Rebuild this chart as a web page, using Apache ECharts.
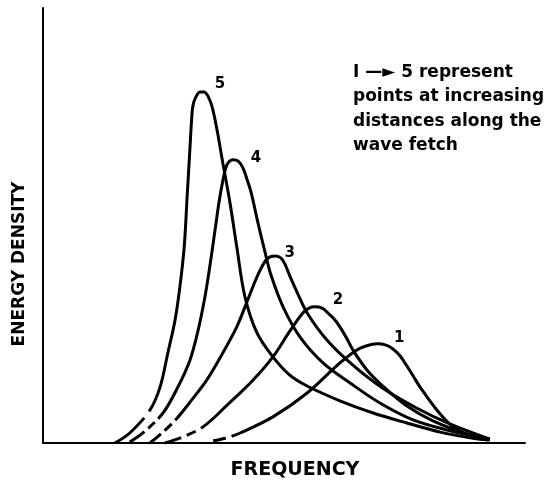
<!DOCTYPE html>
<html><head><meta charset="utf-8">
<script src="https://cdn.jsdelivr.net/npm/echarts@6/dist/echarts.min.js"></script>
<style>html,body{margin:0;padding:0;background:#fff}#c{width:557px;height:486px}</style>
</head><body><div id="c"></div>
<script>
// Frequency (relative units 0-100) vs energy density (relative units 0-100)
const curveNames = ['1', '2', '3', '4', '5'];
const curve1 = [[35.3,0.5],[37.8,1.1],[40.9,2.3],[47.7,6.0],[54.8,11.5],[61.6,18.4],[65.1,21.4],[67.0,22.3],[69.3,22.8],[71.2,22.5],[72.6,21.6],[74.1,20.0],[75.5,17.7],[76.8,15.4],[78.2,12.9],[81.7,7.6],[85.1,3.7],[89.2,1.4],[92.3,0.7]];
const curve2 = [[25.3,0.0],[29.0,1.4],[33.2,3.7],[38.2,8.7],[43.6,14.5],[47.7,19.8],[51.2,25.7],[53.9,29.9],[55.2,31.0],[56.4,31.3],[57.9,31.0],[59.1,29.9],[60.4,28.5],[61.6,26.7],[63.1,23.9],[64.3,21.4],[67.2,16.8],[70.5,13.1],[75.5,8.5],[80.9,5.1],[88.0,2.1],[92.7,0.9]];
const curve3 = [[22.2,0.0],[24.7,2.3],[27.8,5.7],[30.5,9.4],[34.0,14.5],[37.3,20.7],[40.2,26.7],[42.3,32.4],[44.4,38.2],[46.1,41.8],[47.1,42.8],[48.3,43.0],[49.4,42.5],[50.2,41.1],[51.2,38.4],[52.7,34.7],[54.8,29.9],[58.9,23.7],[64.3,17.9],[70.5,12.6],[77.6,8.0],[84.4,4.4],[92.7,0.9]];
const curve4 = [[18.0,0.2],[20.7,2.3],[24.9,6.9],[28.0,12.9],[30.5,19.1],[32.2,26.0],[33.6,33.6],[34.6,40.5],[35.7,49.0],[36.7,56.6],[37.8,62.8],[38.4,64.4],[39.4,65.1],[40.5,64.8],[41.5,63.2],[42.3,60.7],[43.2,57.5],[44.6,50.6],[46.1,43.7],[47.3,38.6],[49.8,31.3],[53.3,24.4],[58.1,18.4],[63.7,13.8],[69.9,9.2],[76.8,5.3],[83.8,3.0],[92.7,0.9]];
const curve5 = [[14.9,0.0],[18.0,2.3],[22.2,7.6],[24.3,12.9],[25.9,20.7],[27.4,28.3],[28.4,35.9],[29.3,45.1],[29.9,56.6],[30.5,68.0],[30.8,73.8],[31.1,77.5],[31.7,79.5],[32.6,80.7],[33.4,80.7],[34.2,79.8],[35.1,77.2],[36.1,72.0],[37.3,64.4],[38.8,55.2],[40.2,45.1],[41.9,33.6],[44.4,25.3],[47.7,19.8],[51.2,15.6],[54.8,13.1],[61.6,9.7],[68.5,6.9],[75.5,4.6],[82.4,2.5],[89.2,1.1],[92.7,0.7]];
// curve number label positions
const labelX = [73.9, 61.2, 51.2, 44.2, 36.7];
const labelY = [24.1, 32.9, 43.7, 65.5, 82.5];
const xTitle = 'FREQUENCY';
const yTitle = 'ENERGY DENSITY';
const note = 'I —► 5 represent\npoints at increasing\ndistances along the\nwave fetch';

const curves = [curve1, curve2, curve3, curve4, curve5];
// broken low-frequency start of each curve: dash, gap, dash, gap, then solid
const dashPatterns = [
  [13, 6, 3000],
  [17, 6, 10, 6, 3000],
  [14, 5, 10, 5, 3000],
  [18, 5, 9, 5, 3000],
  [39, 8, 3000]
];
const FONT = '"DejaVu Sans", sans-serif';
const series = curves.map((c, i) => ({
  type: 'line', name: curveNames[i], data: c,
  smooth: 0.35, showSymbol: false, symbol: 'none',
  lineStyle: { color: '#000', width: 3, type: dashPatterns[i], cap: 'butt' }
}));
series.push({
  type: 'scatter', symbolSize: 0, itemStyle: { color: '#000' },
  data: labelX.map((x, i) => ({ name: curveNames[i], value: [x, labelY[i]] })),
  label: { show: true, position: 'inside', formatter: p => p.name, color: '#000',
           textBorderWidth: 0, opacity: 1,
           fontSize: 15, fontWeight: 'bold', fontFamily: FONT },
  emphasis: { disabled: true }
});

const chart = echarts.init(document.getElementById('c'), null, { renderer: 'canvas' });
const axisCommon = {
  type: 'value', min: 0, max: 100,
  axisLine: { show: true, onZero: false, lineStyle: { color: '#000', width: 2 } },
  axisTick: { show: false }, axisLabel: { show: false }, splitLine: { show: false }
};
chart.setOption({
  animation: false,
  backgroundColor: '#fff',
  grid: { left: 43, right: 32, top: 8, bottom: 43 },
  xAxis: axisCommon,
  yAxis: axisCommon,
  series: series,
  graphic: [
    { type: 'text', x: 295, y: 470, style: { text: xTitle, font: 'bold 19px ' + FONT, fill: '#000', textAlign: 'center', textVerticalAlign: 'middle' } },
    { type: 'text', x: 20, y: 264, rotation: Math.PI / 2, style: { text: yTitle, font: 'bold 17px ' + FONT, fill: '#000', textAlign: 'center', textVerticalAlign: 'middle' } },
    { type: 'text', x: 353, y: 60, style: { text: note, font: 'bold 17px ' + FONT, fill: '#000', lineHeight: 24.5, textAlign: 'left', textVerticalAlign: 'top' } }
  ]
});
</script>
</body></html>
